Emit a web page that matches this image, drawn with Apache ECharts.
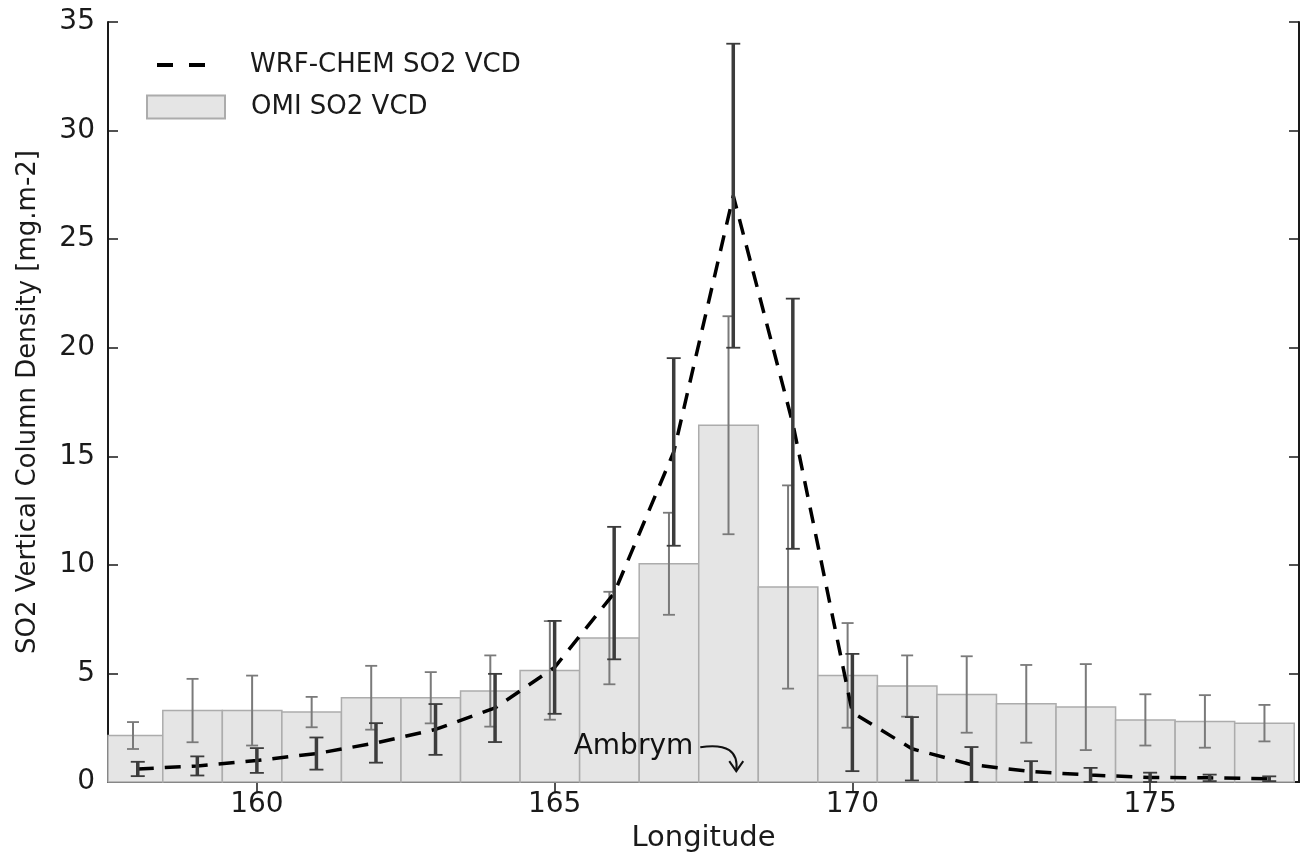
<!DOCTYPE html>
<html>
<head>
<meta charset="utf-8">
<script src="https://cdn.jsdelivr.net/npm/echarts@6.0.0/dist/echarts.min.js"></script>
<style>
  html, body { margin:0; padding:0; background:#fff; }
  #chart { width:1304px; height:852px; }
</style>
</head>
<body>
<div id="chart"></div>
<script>
// WRF-CHEM model, one value per degree of longitude
const wrfLon = [158, 159, 160, 161, 162, 163, 164, 165, 166, 167, 168, 169, 170, 171, 172, 173, 174, 175, 176, 177];
const wrfVcd = [0.6, 0.74, 0.99, 1.31, 1.8, 2.42, 3.41, 5.28, 8.7, 15.2, 27.0, 16.5, 3.2, 1.53, 0.8, 0.48, 0.32, 0.21, 0.19, 0.15];
const wrfStd = [0.33, 0.44, 0.57, 0.74, 0.91, 1.17, 1.57, 2.14, 3.05, 4.32, 7.0, 5.76, 2.7, 1.46, 0.81, 0.48, 0.33, 0.22, 0.15, 0.11];
// OMI satellite bins
const omiLon = [157.92, 158.92, 159.92, 160.92, 161.92, 162.92, 163.92, 164.92, 165.92, 166.92, 167.92, 168.92, 169.92, 170.92, 171.92, 172.92, 173.92, 174.92, 175.92, 176.92];
const omiVcd = [2.14, 3.29, 3.29, 3.22, 3.88, 3.88, 4.19, 5.14, 6.63, 10.05, 16.43, 8.98, 4.91, 4.42, 4.03, 3.6, 3.45, 2.86, 2.79, 2.71];
const omiStd = [0.62, 1.46, 1.61, 0.7, 1.47, 1.18, 1.64, 2.27, 2.13, 2.35, 5.02, 4.68, 2.41, 1.41, 1.76, 1.79, 1.98, 1.18, 1.21, 0.84];
const xTicks = [160, 165, 170, 175];
const annot = { text:'Ambrym', lon:168.05, vcd:0.5 };

const FONT = 'DejaVu Sans';

let myChart = echarts.init(document.getElementById('chart'));

function clipTo(params, r){
    let cs = params.coordSys;
    return echarts.graphic.clipRectByRect(r, { x:cs.x, y:cs.y, width:cs.width, height:cs.height });
}

function renderBar(params, api){
    let x = api.value(0), v = api.value(1);
    let p0 = api.coord([x - 0.5, v]);
    let p1 = api.coord([x + 0.5, 0]);
    let shape = clipTo(params, { x:p0[0], y:p0[1], width:p1[0] - p0[0], height:p1[1] - p0[1] });
    if ( !shape ) return;
    return {
        type:'rect',
        shape:shape,
        style:{ fill:'#e5e5e5', stroke:'#acacac', lineWidth:1.5 }
    };
}

function errRender(color, width, cap){
    return function(params, api){
        let x = api.value(0);
        let lo = api.coord([x, api.value(1)]);
        let hi = api.coord([x, api.value(2)]);
        let st = { stroke:color, lineWidth:width, fill:null };
        return {
            type:'group',
            children:[
                { type:'line', shape:{ x1:lo[0], y1:lo[1], x2:hi[0], y2:hi[1] }, style:st },
                { type:'line', shape:{ x1:lo[0] - cap, y1:lo[1], x2:lo[0] + cap, y2:lo[1] }, style:{ stroke:color, lineWidth:1.8 } },
                { type:'line', shape:{ x1:hi[0] - cap, y1:hi[1], x2:hi[0] + cap, y2:hi[1] }, style:{ stroke:color, lineWidth:1.8 } }
            ]
        };
    };
}

function renderAnnot(params, api){
    let p = api.coord([api.value(0), api.value(1)]);
    let sx = p[0] - 36, sy = p[1] - 24;
    return {
        type:'group',
        children:[
            { type:'text', style:{ text:annot.text, x:p[0] - 43, y:sy, align:'right', verticalAlign:'middle',
                fontFamily:FONT, fontSize:28, fill:'#111' } },
            { type:'bezierCurve', shape:{ x1:sx, y1:sy, cpx1:p[0] + 4, cpy1:sy - 6, x2:p[0], y2:p[1] },
              style:{ stroke:'#111', lineWidth:2, fill:null } },
            { type:'polyline', shape:{ points:[[p[0] - 7, p[1] - 10], [p[0], p[1]], [p[0] + 7, p[1] - 10]] },
              style:{ stroke:'#111', lineWidth:2, fill:null } }
        ]
    };
}

let axisLine = { show:true, lineStyle:{ color:'#1a1a1a', width:2 } };
let tickIn = { show:true, inside:true, length:10, lineStyle:{ color:'#1a1a1a', width:1.5 } };

let option = {
    animation:false,
    textStyle:{ fontFamily:FONT },
    // fixed plot box, do not let v6 shrink it for the labels
    grid:{ left:108, right:5, top:22, bottom:70, outerBoundsMode:'none' },
    legend:[
        {
            // two-dash icon, like the dashed line
            data:[{ name:'WRF-CHEM SO2 VCD', icon:'path://M0,0H16V4H0Z M32,0H48V4H32Z' }],
            left:152, top:47,
            itemWidth:48, itemHeight:4, itemGap:0,
            itemStyle:{ color:'#000' },
            textStyle:{ fontFamily:FONT, fontSize:26, color:'#1a1a1a', padding:[0, 0, 0, 40] }
        },
        {
            data:[{ name:'OMI SO2 VCD', icon:'rect' }],
            left:141, top:89,
            itemWidth:78, itemHeight:23,
            textStyle:{ fontFamily:FONT, fontSize:26, color:'#1a1a1a', padding:[0, 0, 0, 21] }
        }
    ],
    xAxis:[
        {
            type:'value', min:157.5, max:177.5, position:'bottom',
            name:'Longitude', nameLocation:'middle', nameGap:34,
            nameTextStyle:{ fontFamily:FONT, fontSize:29, color:'#1a1a1a' },
            axisLine:axisLine,
            axisTick:Object.assign({ customValues:xTicks }, tickIn),
            axisLabel:{ customValues:xTicks, fontFamily:FONT, fontSize:28, color:'#1a1a1a', margin:9 },
            splitLine:{ show:false }
        },
        {
            type:'value', min:157.5, max:177.5, position:'top',
            axisLine:axisLine,
            axisTick:Object.assign({ customValues:xTicks }, tickIn),
            axisLabel:{ show:false },
            splitLine:{ show:false }
        }
    ],
    yAxis:[
        {
            type:'value', min:0, max:35, interval:5, position:'left',
            name:'SO2 Vertical Column Density [mg.m-2]', nameLocation:'middle', nameGap:67,
            nameTextStyle:{ fontFamily:FONT, fontSize:26, color:'#1a1a1a' },
            axisLine:axisLine, axisTick:tickIn,
            axisLabel:{ fontFamily:FONT, fontSize:28, color:'#1a1a1a', margin:13 },
            splitLine:{ show:false }
        },
        {
            type:'value', min:0, max:35, interval:5, position:'right',
            axisLine:axisLine, axisTick:tickIn,
            axisLabel:{ show:false },
            splitLine:{ show:false }
        }
    ],
    series:[
        {
            name:'OMI SO2 VCD',
            type:'custom',
            renderItem:renderBar,
            itemStyle:{ color:'#e5e5e5', borderColor:'#acacac', borderWidth:1.5 },
            encode:{ x:0, y:1 },
            z:1,
            data:omiLon.map((x, i)=>[x, omiVcd[i]])
        },
        {
            name:'OMI err',
            type:'custom',
            renderItem:errRender('#7a7a7a', 2, 6),
            encode:{ x:0, y:[1, 2] },
            z:2,
            data:omiLon.map((x, i)=>[x, omiVcd[i] - omiStd[i], omiVcd[i] + omiStd[i]])
        },
        {
            name:'WRF-CHEM SO2 VCD',
            type:'line',
            symbol:'none',
            z:3,
            lineStyle:{ color:'#000', width:3.5, type:[16, 11] },
            itemStyle:{ color:'#000' },
            data:wrfLon.map((x, i)=>[x, wrfVcd[i]])
        },
        {
            name:'WRF err',
            type:'custom',
            renderItem:errRender('#3c3c3c', 3.5, 7),
            encode:{ x:0, y:[1, 2] },
            z:4,
            data:wrfLon.map((x, i)=>[x, Math.max(0, wrfVcd[i] - wrfStd[i]), wrfVcd[i] + wrfStd[i]])
        },
        {
            name:'annotation',
            type:'custom',
            renderItem:renderAnnot,
            encode:{ x:0, y:1 },
            z:5,
            silent:true,
            data:[[annot.lon, annot.vcd]]
        }
    ]
};
myChart.setOption(option);
</script>
</body>
</html>
